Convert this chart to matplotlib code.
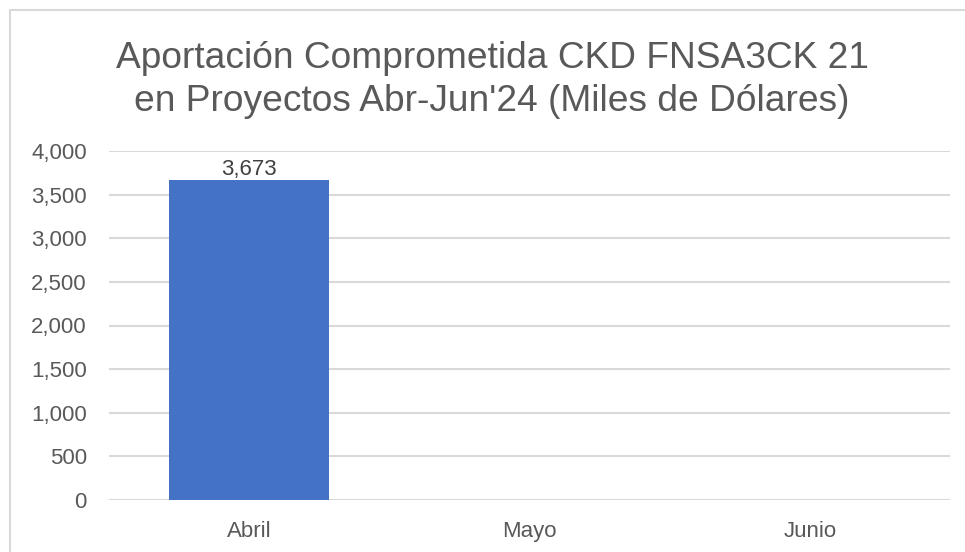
import matplotlib.pyplot as plt
from matplotlib.patches import Rectangle
from matplotlib.ticker import FuncFormatter

plt.rcParams['font.family'] = ['Liberation Sans', 'DejaVu Sans']

meses = ['Abril', 'Mayo', 'Junio']
aportacion = [3673, 0, 0]
titulo = "Aportación Comprometida CKD FNSA3CK 21\nen Proyectos Abr-Jun'24 (Miles de Dólares)"

W, H = 965, 552
fig = plt.figure(figsize=(W / 100, H / 100), dpi=100)

# marco gris del área del gráfico
fig.patches.append(Rectangle((10 / W, -0.1), 1.2, (H - 10) / H + 0.1,
                             transform=fig.transFigure, fill=False,
                             edgecolor='#d9d9d9', linewidth=1.5))

ax = fig.add_axes([109 / W, (H - 500) / H, (950 - 109) / W, (500 - 151) / H])

x = range(len(meses))
ax.bar(x, aportacion, width=0.57, color='#4472c4')
ax.text(0, aportacion[0], f'{aportacion[0]:,}', ha='center', va='bottom',
        fontsize=16, color='#404040')

ax.set_xlim(-0.5, 2.5)
ax.set_ylim(0, 4000)
ax.set_yticks(range(0, 4001, 500))
ax.yaxis.set_major_formatter(FuncFormatter(lambda v, p: f'{int(v):,}'))
ax.set_xticks(list(x))
ax.set_xticklabels(meses)
ax.tick_params(axis='both', length=0, labelsize=16, labelcolor='#595959')
ax.tick_params(axis='y', pad=16)
ax.tick_params(axis='x', pad=15)
ax.grid(axis='y', color='#d9d9d9', linewidth=1.5)
ax.set_axisbelow(True)
for s in ax.spines.values():
    s.set_visible(False)

fig.text(492 / W, 1 - 80 / H, titulo, ha='center', va='center', fontsize=26.7,
         color='#595959', linespacing=1.3)

fig.savefig('out.png', dpi=100)
